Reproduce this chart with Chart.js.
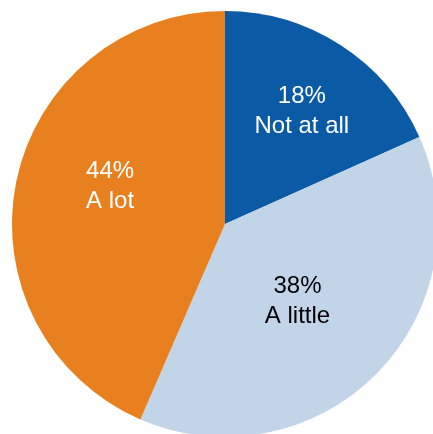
<!DOCTYPE html>
<html>
<head>
<meta charset="utf-8">
<script src="https://cdn.jsdelivr.net/npm/chart.js@4/dist/chart.umd.min.js"></script>
<style>
    html, body { margin: 0; padding: 0; background: #fff; overflow: hidden; width: 433px; height: 434px; }
    #wrap { position: absolute; left: 12px; top: 11px; width: 426px; height: 426px; }
</style>
</head>
<body>
<div id="wrap"><canvas id="pieChart" width="426" height="426"></canvas></div>
<script>
// Data (slice sizes estimated from the boundaries)
const categories = ['Not at all', 'A little', 'A lot'];
const shares = [18.3, 38.2, 43.5];
const shareLabels = ['18%', '38%', '44%'];

// Styling
const sliceColors = ['#0b5aa6', '#c2d4e8', '#e8801f'];
const textColors = ['#ffffff', '#000000', '#ffffff'];
const labelRadius = [0.646, 0.49, 0.57];   // fraction of outer radius
const labelTurn = [1.0, 1.35, 7.15];       // degrees past the slice middle

// Draw "NN%" + category inside each slice
const sliceLabels = {
    id: 'sliceLabels',
    afterDatasetsDraw(chart) {
        const ctx = chart.ctx;
        const arcs = chart.getDatasetMeta(0).data;
        ctx.save();
        ctx.font = '24px "Liberation Sans", Arial, sans-serif';
        ctx.textAlign = 'center';
        ctx.textBaseline = 'middle';
        arcs.forEach((arc, i) => {
            const mid = (arc.startAngle + arc.endAngle) / 2 + labelTurn[i] * Math.PI / 180;
            const r = arc.outerRadius * labelRadius[i];
            const x = arc.x + Math.cos(mid) * r;
            const y = arc.y + Math.sin(mid) * r;
            ctx.fillStyle = textColors[i];
            ctx.fillText(shareLabels[i], x, y - 13);
            ctx.fillText(categories[i], x, y + 17);
        });
        ctx.restore();
    }
};

new Chart(document.getElementById('pieChart'), {
    type: 'pie',
    data: {
        labels: categories,
        datasets: [{
            data: shares,
            backgroundColor: sliceColors,
            borderWidth: 0
        }]
    },
    options: {
        responsive: false,
        animation: false,
        layout: { padding: 0 },
        plugins: {
            legend: { display: false },
            tooltip: { enabled: false }
        }
    },
    plugins: [sliceLabels]
});
</script>
</body>
</html>
